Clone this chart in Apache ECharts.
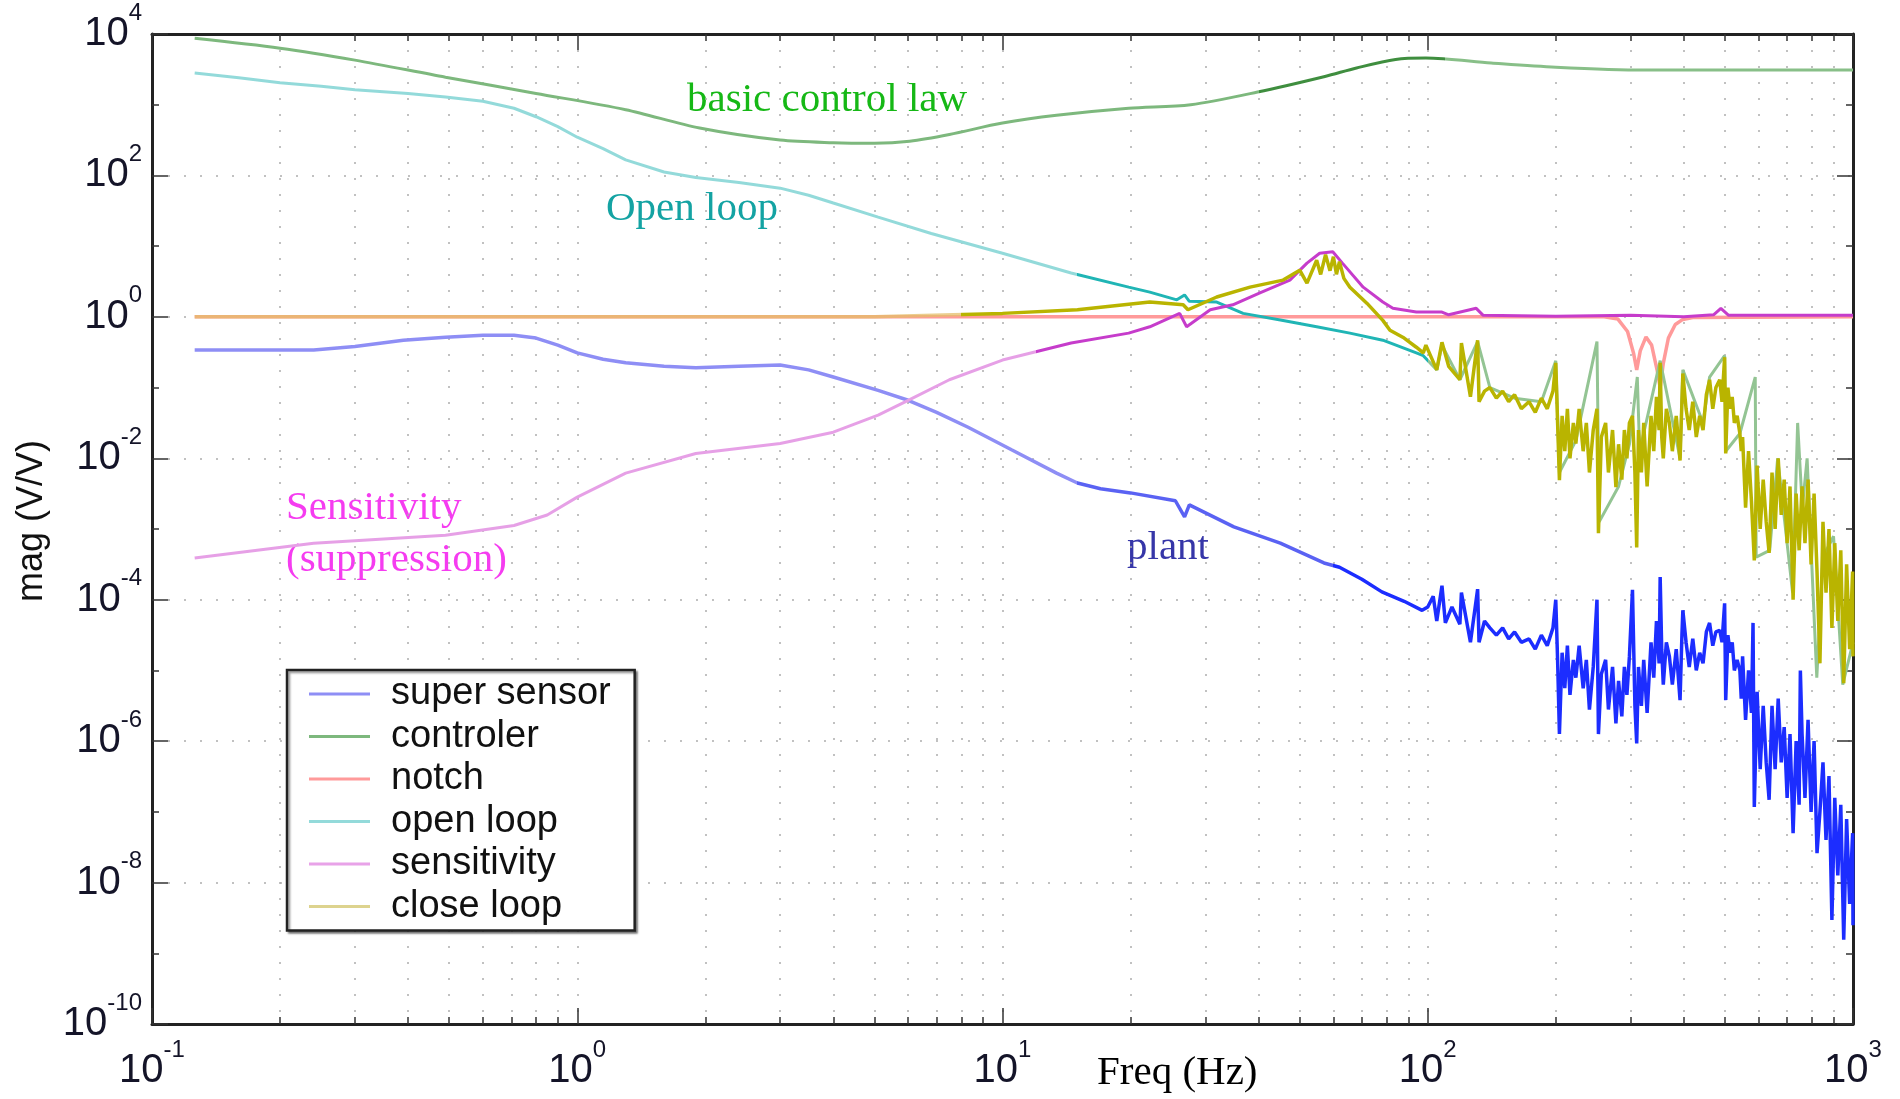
<!DOCTYPE html>
<html>
<head>
<meta charset="utf-8">
<script src="https://cdn.jsdelivr.net/npm/echarts@6.0.0/dist/echarts.min.js"></script>
<style>
  html, body { margin: 0; padding: 0; background: #fff; }
  #chart { width: 1900px; height: 1099px; }
</style>
</head>
<body>
<div id="chart"></div>
<script>
// [freq (Hz), mag (V/V)]
var superSensor = [[0.126,0.339],[0.24,0.339],[0.3,0.38],[0.39,0.468],[0.49,0.513],[0.6,0.55],[0.71,0.55],[0.8,0.501],[0.9,0.398],[1.0,0.309],[1.15,0.251],[1.3,0.224],[1.6,0.2],[1.9,0.191],[2.4,0.2],[3.0,0.209],[3.5,0.178],[4.0,0.141],[5.1,0.0912],[6.0,0.0661],[7.0,0.0447],[8.3,0.0275],[10.5,0.0132],[13.4,0.00617],[15,0.00447],[17,0.0037],[20,0.00324],[25.5,0.00251],[26.8,0.00148],[27.5,0.00219],[35,0.00107],[45,6.31e-4],[57,3.31e-4],[62,2.88e-4],[70,1.95e-4],[78,1.29e-4],[88,9.5e-5],[97,7.08e-5],
  [100,7.9e-5],[103,1.12e-4],[105,5e-5],[108,1.58e-4],[110,4.7e-5],[114,7.9e-5],[119,4.5e-5],[120,1.26e-4],[126,2.5e-5],[131,1.41e-4],[132,2.5e-5],[136,5e-5],[140,4e-5],[145,3.16e-5],[150,4e-5],[155,2.8e-5],[160,3.5e-5],[166,2.5e-5],[173,2.8e-5],[179,2e-5],[185,3.16e-5],[191,2.24e-5],[197,4e-5],[200,1e-4],[202,1.41e-5],[204,1.26e-6],[207,1.78e-5],[210,5.6e-6],[213,2.24e-5],[216,4.5e-6],[220,1.41e-5],[223,7.9e-6],[227,2.24e-5],[232,5.6e-6],[236,1.41e-5],[240,2.8e-6],[245,1.12e-5],[250,1e-4],[252,1.26e-6],[256,8.9e-6],[262,1.41e-5],[266,2.8e-6],[272,1.12e-5],[277,1.78e-6],[281,7.1e-6],[286,2.24e-6],[290,1.12e-5],[294,4.5e-6],[298,1.58e-5],[303,1.38e-4],[307,3.16e-6],[310,9.3e-7],[313,1.12e-5],[318,3.16e-6],[322,1.41e-5],[328,2.5e-6],[335,2.5e-5],[340,7.9e-6],[345,5e-5],[350,1.26e-5],[352,2.1e-4],[355,1.95e-5],[358,6.3e-6],[364,2.5e-5],[370,1.58e-5],[376,6.3e-6],[384,2e-5],[392,3.8e-6],[396,3.16e-5],[398,7.1e-5],[405,2.5e-5],[412,1.12e-5],[420,2.8e-5],[428,1e-5],[436,1.78e-5],[444,1.26e-5],[452,3.5e-5],[460,4.7e-5],[468,2.24e-5],[476,3.5e-5],[486,3.7e-5],[492,2.5e-5],[499,8.9e-5],[502,3.8e-6],[508,3.16e-5],[514,1.78e-5],[520,2.5e-5],[526,1e-5],[534,1.41e-5],[542,1e-5],[546,4e-6],
  [550,1.58e-5],[559,2e-6],[568,1e-5],[577,2.5e-6],[582,4.7e-5],[586,1.17e-7],[595,5e-6],[605,4e-7],[615,3.16e-6],[625,5e-7],[635,1.48e-7],[645,3.16e-6],[656,4e-7],[667,4e-6],[678,5e-7],[689,1.58e-6],[700,1.58e-7],[711,1.26e-6],[723,5e-8],[735,1e-6],[747,1.26e-7],[752,1e-5],[759,1.26e-6],[771,1.58e-7],[784,2e-6],[797,1e-7],[810,1e-6],[823,2.6e-8],[836,1e-7],[850,5e-7],[864,4e-8],[878,3.2e-7],[892,2.95e-9],[906,1.58e-7],[921,1.26e-8],[936,1.26e-7],[951,1.55e-9],[966,7.9e-8],[982,5e-9],[998,5e-8],[1000,2.5e-9]];

var controler = [[0.126,8710],[0.2,6310],[0.3,4270],[0.49,2450],[0.8,1445],[1.3,851],[1.94,468],[3.0,316],[4.0,290],[5.0,285],[6.05,305],[7.5,380],[10,550],[13.4,708],[19.8,891],[27.7,1000],[39.8,1510],[57.3,2510],[68,3310],[84,4365],[99,4570],[141,3890],[200,3390],[322,3090],[489,3090],[1000,3090]];

var notch = [[0.126,1],[260,1],[280,0.93],[295,0.62],[305,0.3],[310,0.178],[316,0.33],[326,0.52],[336,0.4],[346,0.18],[352,0.1],[358,0.22],[368,0.5],[382,0.78],[398,0.92],[420,0.98],[1000,1]];

var openLoop = [[0.126,2818],[0.16,2399],[0.2,2042],[0.25,1820],[0.3,1622],[0.4,1445],[0.49,1288],[0.6,1122],[0.71,891],[0.8,676],[0.9,490],[1.0,347],[1.15,240],[1.3,166],[1.6,112],[1.9,93.3],[2.4,79.4],[3.0,66.1],[3.5,52.5],[4.0,40.7],[5.1,25.7],[6.8,15.1],[10,7.94],[14.5,4.17],[19.8,2.63],[22.2,2.24],[25.7,1.74],[26.8,2.04],[27.5,1.66],[31.9,1.62],[36.8,1.12],[45.7,0.891],[54.8,0.724],[65.6,0.589],[78.4,0.468],[94,0.309],[97.6,0.282],[105,0.178],[108,0.398],[119,0.129],[131,0.447],[140,0.1],[160,0.0708],[185,0.0631],[200,0.24],[204,0.0063],[223,0.0178],[250,0.447],[253,0.00126],[281,0.004],[298,0.0158],[311,0.141],[315,0.0126],[352,0.24],[392,0.01],[398,0.178],[444,0.0316],[460,0.141],[499,0.282],[502,0.0126],[542,0.0224],[589,0.141],[592,4e-4],[637,5e-4],[665,0.01],[721,1.26e-4],[741,0.0316],[760,0.002],[780,0.01],[822,7.9e-6],[850,4e-4],[900,7.9e-4],[946,6.3e-6],[1000,2.5e-5]];

var sensitivity = [[0.126,3.89e-4],[0.24,6.31e-4],[0.49,8.13e-4],[0.71,1.12e-3],[0.85,1.58e-3],[1.0,2.82e-3],[1.3,6.17e-3],[1.9,0.0117],[3.0,0.0162],[4.0,0.0234],[5.1,0.0407],[6.0,0.0661],[7.5,0.129],[10,0.245],[14.5,0.427],[19.8,0.589],[22.2,0.724],[26.1,1.12],[27.1,0.724],[30.8,1.26],[34.8,1.48],[40.3,2.19],[47.4,3.31],[52,5.75],[55.7,7.94],[59.8,8.32],[63,5.75],[70.5,2.63],[78.4,1.62],[82.8,1.32],[94,1.17],[108,1.17],[112,1.07],[130,1.32],[135,1.05],[200,1.02],[300,1.05],[400,1.0],[470,1.07],[489,1.32],[510,1.05],[1000,1.05]];

var closeLoop = [[0.126,1],[1,1],[5,1],[10,1.12],[15,1.26],[22.2,1.62],[26.6,1.48],[27.3,1.26],[31.9,1.91],[38.2,2.63],[45.7,3.31],[50,4.57],[52,3.0],[54.8,6.31],[56,3.98],[57.5,7.59],[58.9,4.5],[60,7.08],[61,4.0],[62,6.03],[63.5,3.5],[65.6,2.63],[72,1.55],[78.4,0.891],[81.5,0.646],[88,0.501],[94,0.372],[97.6,0.309],[99,0.398],[105,0.178],[108,0.437],[112,0.2],[119,0.129],[120,0.427],[126,0.0741],[131,0.468],[132,0.0631],[136,0.0891],
  [140,0.1],[145,0.0708],[150,0.0891],[155,0.0631],[160,0.0794],[166,0.0501],[173,0.0631],[179,0.0447],[185,0.0708],[191,0.0501],[197,0.0891],[200,0.224],[202,0.0316],[204,0.0049],[207,0.0398],[210,0.0126],[213,0.0501],[216,0.01],[220,0.0316],[223,0.0162],[227,0.0501],[232,0.0126],[236,0.0316],[240,0.0063],[245,0.0251],[250,0.0501],[252,8.7e-4],[256,0.02],[262,0.0316],[266,0.0063],[272,0.0251],[277,0.0039],[281,0.0158],[286,0.005],[290,0.0251],[294,0.01],[298,0.0316],[303,0.0398],[307,0.0063],[310,5.5e-4],[313,0.0251],[318,0.0063],[322,0.0316],[328,0.004],[335,0.0398],[340,0.0126],[345,0.0741],[350,0.0251],[352,0.224],[355,0.02],[358,0.01],[364,0.0501],[370,0.0316],[376,0.0126],[384,0.0398],[392,0.0093],[396,0.0631],[398,0.158],[405,0.0501],[412,0.0251],[420,0.0631],[428,0.02],[436,0.0398],[444,0.0251],[452,0.0794],[460,0.129],[468,0.0501],[476,0.1],[486,0.129],[492,0.0631],[499,0.269],[502,0.0117],[508,0.1],[514,0.0501],[520,0.0741],[526,0.0316],[534,0.0398],[542,0.0224],[546,0.0126],
  [550,0.02],[559,0.002],[568,0.0126],[577,0.0025],[586,3.6e-4],[595,0.0079],[605,0.001],[615,0.005],[625,0.00126],[635,4.6e-4],[645,0.0063],[656,0.001],[667,0.01],[678,0.00158],[689,0.005],[700,6.3e-4],[711,0.004],[723,1e-4],[735,0.00316],[747,5e-4],[759,0.004],[771,6.3e-4],[784,0.005],[797,3.16e-4],[810,0.00316],[823,2.5e-4],[836,1.26e-5],[850,0.00126],[864,1.26e-4],[878,0.001],[892,4e-5],[906,6.3e-4],[921,5e-5],[936,5e-4],[951,6.6e-6],[966,3.16e-4],[982,2e-5],[998,2.5e-4],[1000,1.58e-5]];

var seriesNames = ['super sensor', 'controler', 'notch', 'open loop', 'sensitivity', 'close loop'];
var legendColors = ['#8e8ef5', '#7db87d', '#ff9a9a', '#93dada', '#e8a2e8', '#ddd38e'];
var yTickExponents = [-10, -8, -6, -4, -2, 0, 2, 4];

(function () {
  var chartDom = document.getElementById('chart');
  var myChart = echarts.init(chartDom);

  var narrow = "'Liberation Sans Narrow', 'Liberation Sans', Arial, sans-serif";
  var sans = "'Liberation Sans', Arial, sans-serif";
  var serif = "'Liberation Serif', 'Times New Roman', serif";

  // 10 with raised exponent
  var tickRich = {
    b: { fontSize: 40, fontFamily: narrow, color: '#141428', lineHeight: 66, verticalAlign: 'middle' },
    s: { fontSize: 24, fontFamily: sans, color: '#141428', lineHeight: 24, verticalAlign: 'top' }
  };
  var dotted = { color: '#adadad', width: 1.5, type: [2, 14] };
  var frame = { show: true, onZero: false, lineStyle: { color: '#222', width: 3 } };
  var tick = { show: true, inside: true, length: 16, lineStyle: { color: '#333', width: 1.5 } };

  function mkLine(name, data, width, z) {
    return {
      name: name,
      type: 'line',
      data: data,
      showSymbol: false,
      symbol: 'none',
      xAxisIndex: 0,
      yAxisIndex: 0,
      z: z,
      lineStyle: { width: width },
      silent: true
    };
  }

  var option = {
    animation: false,
    color: legendColors,
    grid: { left: 152, right: 47, top: 34, bottom: 75 },
    legend: {
      data: seriesNames,
      orient: 'vertical',
      left: 287,
      top: 670,
      padding: [4, 24, 4, 22],
      itemGap: 2.5,
      itemWidth: 61,
      itemHeight: 3,
      icon: 'rect',
      backgroundColor: '#fff',
      borderColor: '#222',
      borderWidth: 2.5,
      shadowColor: 'rgba(0,0,0,0.4)',
      shadowBlur: 2,
      shadowOffsetX: 2,
      shadowOffsetY: 2,
      textStyle: { fontFamily: sans, fontSize: 38, color: '#111', lineHeight: 40, padding: [0, 0, 0, 16] }
    },
    visualMap: [
      { type: 'piecewise', show: false, seriesIndex: 0, dimension: 0,
        pieces: [{ lt: 15, color: '#8e8ef5' }, { gte: 15, lt: 60, color: '#5a62f3' }, { gte: 60, color: '#1c2dff' }] },
      { type: 'piecewise', show: false, seriesIndex: 1, dimension: 0,
        pieces: [{ lt: 40, color: '#7db87d' }, { gte: 40, lt: 110, color: '#3f8e3f' }, { gte: 110, color: '#88bf88' }] },
      { type: 'piecewise', show: false, seriesIndex: 3, dimension: 0,
        pieces: [{ lt: 15, color: '#93dada' }, { gte: 15, lt: 100, color: '#20b5b5' }, { gte: 100, color: '#93c493' }] },
      { type: 'piecewise', show: false, seriesIndex: 4, dimension: 0,
        pieces: [{ lt: 12, color: '#e6a0e6' }, { gte: 12, lt: 100, color: '#c63ccb' }, { gte: 100, color: '#c63ccb' }] },
      { type: 'piecewise', show: false, seriesIndex: 5, dimension: 0,
        pieces: [{ lt: 8, color: 'rgba(228,190,105,0.75)' }, { gte: 8, lt: 100, color: '#b9b400' }, { gte: 100, color: '#b9b400' }] }
    ],
    xAxis: [
      {
        type: 'log', logBase: 10, min: 0.1, max: 1000, position: 'bottom',
        axisLine: frame,
        axisTick: tick,
        minorTick: { show: true, splitNumber: 9, length: 7, lineStyle: { color: '#333', width: 1.5 } },
        splitLine: { show: true, lineStyle: dotted },
        minorSplitLine: { show: true, lineStyle: dotted },
        axisLabel: {
          margin: 14,
          formatter: function (v) {
            var e = Math.round(Math.log(v) / Math.LN10);
            return '{b|10}{s|' + e + '}';
          },
          rich: tickRich
        }
      },
      {
        type: 'log', logBase: 10, min: 0.1, max: 1000, position: 'top',
        axisLine: frame,
        axisTick: tick,
        minorTick: { show: true, splitNumber: 9, length: 7, lineStyle: { color: '#333', width: 1.5 } },
        splitLine: { show: false },
        axisLabel: { show: false }
      }
    ],
    yAxis: [
      { type: 'log', logBase: 10, min: 1e-10, max: 1e4, show: false },
      {
        type: 'value', min: -10, max: 4, interval: 2, position: 'left',
        axisLine: frame,
        axisTick: tick,
        minorTick: { show: true, splitNumber: 2, length: 7, lineStyle: { color: '#333', width: 1.5 } },
        splitLine: { show: true, lineStyle: dotted },
        axisLabel: {
          margin: 10,
          formatter: function (v) {
            return yTickExponents.indexOf(v) >= 0 ? '{b|10}{s|' + v + '}' : '';
          },
          rich: tickRich
        }
      },
      {
        type: 'value', min: -10, max: 4, interval: 2, position: 'right',
        axisLine: frame,
        axisTick: tick,
        minorTick: { show: true, splitNumber: 2, length: 7, lineStyle: { color: '#333', width: 1.5 } },
        splitLine: { show: false },
        axisLabel: { show: false }
      }
    ],
    series: [
      mkLine('super sensor', superSensor, 3.5, 2),
      Object.assign(mkLine('controler', controler, 3, 3), { smooth: 0.3 }),
      mkLine('notch', notch, 3.5, 4),
      mkLine('open loop', openLoop, 3, 5),
      mkLine('sensitivity', sensitivity, 3, 6),
      mkLine('close loop', closeLoop, 3.5, 7)
    ],
    graphic: [
      { type: 'text', left: 687, top: 80, style: { text: 'basic control law', font: '41px ' + serif, fill: '#16b816' } },
      { type: 'text', left: 606, top: 189, style: { text: 'Open loop', font: '41px ' + serif, fill: '#14a3a3' } },
      { type: 'text', left: 286, top: 488, style: { text: 'Sensitivity', font: '41px ' + serif, fill: '#f53cf0' } },
      { type: 'text', left: 286, top: 540, style: { text: '(suppression)', font: '41px ' + serif, fill: '#f53cf0' } },
      { type: 'text', left: 1127, top: 528, style: { text: 'plant', font: '41px ' + serif, fill: '#3636a8' } },
      { type: 'text', left: 1097, top: 1053, style: { text: 'Freq (Hz)', font: '41px ' + serif, fill: '#000' } },
      { type: 'text', left: 14, top: 440, rotation: Math.PI / 2,
        style: { text: 'mag (V/V)', font: '36px ' + sans, fill: '#111' } }
    ]
  };

  option && myChart.setOption(option);
  window.addEventListener('resize', function () {
    myChart.resize();
  });
})();
</script>
</body>
</html>
